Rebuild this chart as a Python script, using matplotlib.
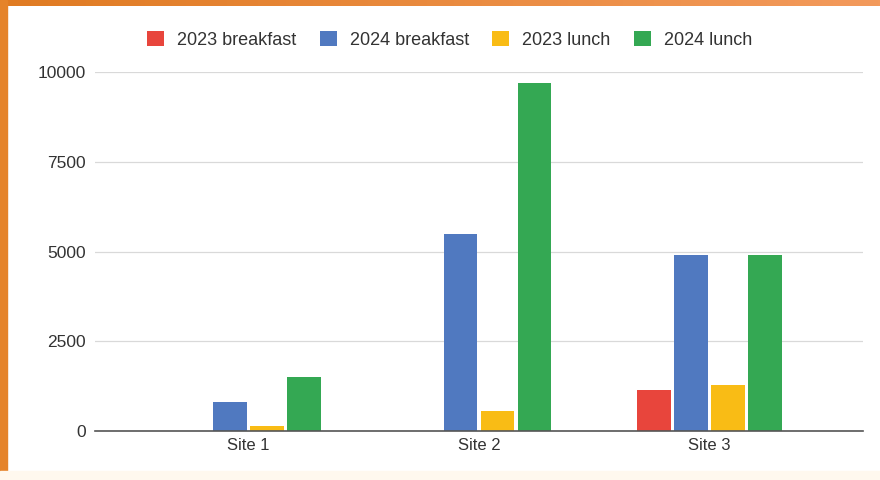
import numpy as np
import matplotlib
matplotlib.use("Agg")
import matplotlib.pyplot as plt
from matplotlib.patches import Rectangle
from matplotlib.colors import LinearSegmentedColormap

plt.rcParams['font.family'] = ['Liberation Sans', 'DejaVu Sans']

# Datos
sitios = ["Site 1", "Site 2", "Site 3"]
series = ["2023 breakfast", "2024 breakfast", "2023 lunch", "2024 lunch"]
desayuno_2023 = [0, 0, 1150]
desayuno_2024 = [800, 5500, 4900]
almuerzo_2023 = [140, 550, 1280]
almuerzo_2024 = [1500, 9700, 4900]
colores = ["#E8453C", "#5079C0", "#F9BC15", "#34A853"]
yticks = [0, 2500, 5000, 7500, 10000]

valores = [desayuno_2023, desayuno_2024, almuerzo_2023, almuerzo_2024]

fig = plt.figure(figsize=(8.8, 4.8), dpi=100)
fig.patch.set_facecolor("white")

# Marco naranja (izquierda y arriba) y franja crema abajo
fig.patches.append(Rectangle((0, 0), 7 / 880, 1, transform=fig.transFigure,
                             color="#E5832A", zorder=0))
fig.patches.append(Rectangle((0, 0), 1, 9 / 480, transform=fig.transFigure,
                             color="#FFF8EE", zorder=0))
franja = fig.add_axes([0, 1 - 6 / 480, 1, 6 / 480])
cmap = LinearSegmentedColormap.from_list("naranja", ["#E07B22", "#F39A5C"])
franja.imshow(np.linspace(0, 1, 256)[None, :], aspect="auto", cmap=cmap)
franja.axis("off")

ax = fig.add_axes([95 / 880, 49 / 480, 768 / 880, 359 / 480])
x = np.arange(len(sitios))
paso = 0.16
ancho = 0.145
for i, (nombre, vals, c) in enumerate(zip(series, valores, colores)):
    ax.bar(x + (i - 1.5) * paso, vals, width=ancho, color=c, label=nombre, zorder=3)

ax.set_xlim(-0.666, 2.666)
ax.set_ylim(0, 10000)
ax.set_yticks(yticks)
ax.set_yticklabels([str(v) for v in yticks])
ax.set_xticks(x)
ax.set_xticklabels(sitios)
ax.grid(axis="y", color="#D9D9D9", linewidth=0.9, zorder=0)
for lado in ["top", "right", "left"]:
    ax.spines[lado].set_visible(False)
ax.spines["bottom"].set_color("#555555")
ax.spines["bottom"].set_linewidth(1.2)
ax.spines["bottom"].set_zorder(4)
ax.tick_params(axis="y", length=0, labelsize=12.5, colors="#333333", pad=6.5)
ax.tick_params(axis="x", length=0, labelsize=12, colors="#333333", pad=5)

ax.legend(loc="center", bbox_to_anchor=(449.5 / 880, 440 / 480),
          bbox_transform=fig.transFigure, ncol=4, frameon=False,
          fontsize=13, handlelength=0.95, handleheight=0.85,
          columnspacing=1.3, handletextpad=0.7, labelcolor="#333333")

fig.savefig("out.png", dpi=100)
